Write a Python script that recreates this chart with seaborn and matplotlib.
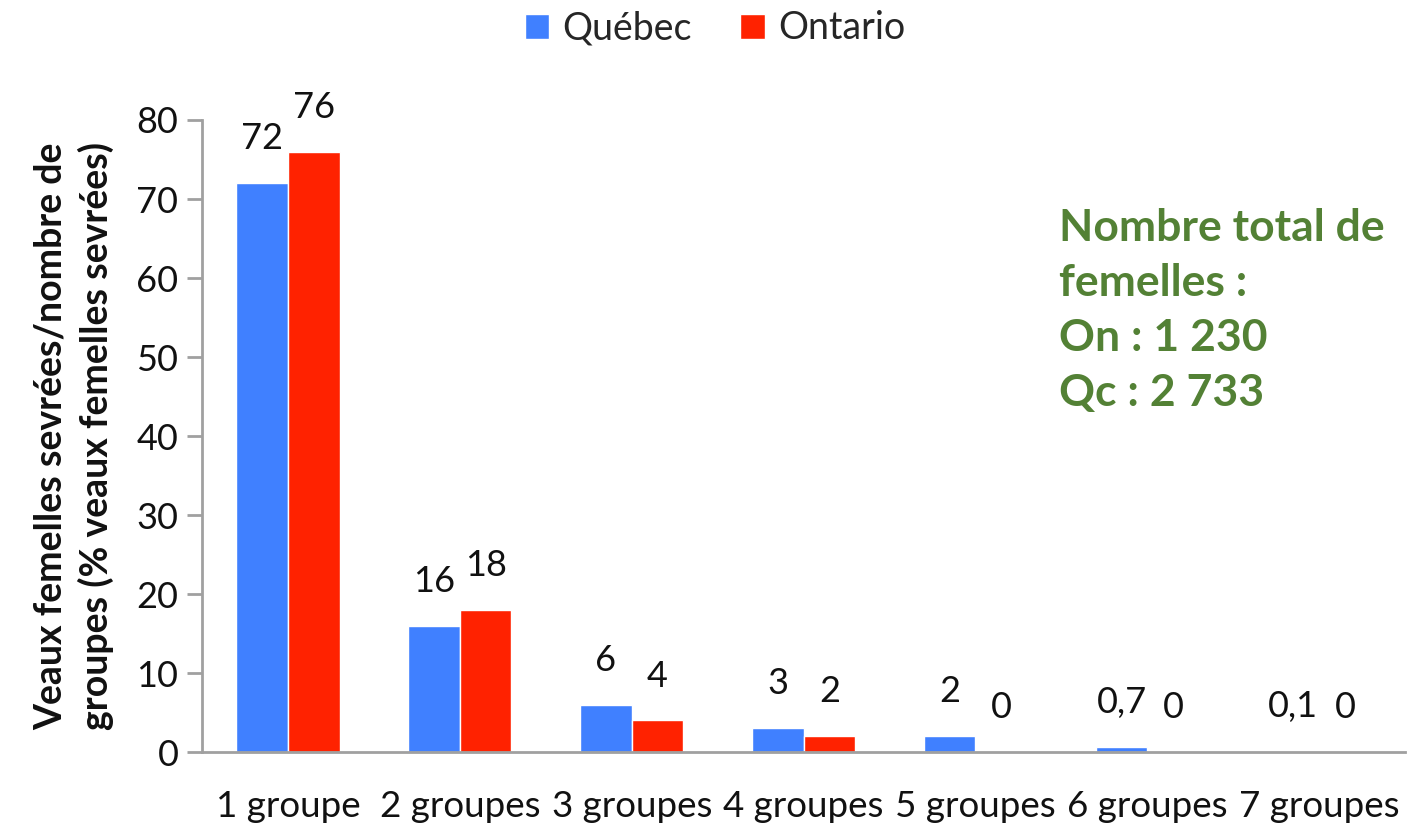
import numpy as np
import pandas as pd
import matplotlib
matplotlib.use("Agg")
import matplotlib.pyplot as plt
import seaborn as sns

categories = ["1 groupe", "2 groupes", "3 groupes", "4 groupes", "5 groupes", "6 groupes", "7 groupes"]
quebec = [72, 16, 6, 3, 2, 0.7, 0.1]
ontario = [76, 18, 4, 2, 0, 0, 0]
quebec_labels = ["72", "16", "6", "3", "2", "0,7", "0,1"]
ontario_labels = ["76", "18", "4", "2", "0", "0", "0"]
provinces = ["Québec", "Ontario"]
colors = {"Québec": "#4080FF", "Ontario": "#FF2200"}
note = "Nombre total de\nfemelles :\nOn : 1 230\nQc : 2 733"

df = pd.DataFrame({
    "groupes": categories * 2,
    "pct": quebec + ontario,
    "province": ["Québec"] * len(categories) + ["Ontario"] * len(categories),
})

sns.set_style("white")
plt.rcParams["font.family"] = ["Lato", "DejaVu Sans"]

fig = plt.figure(figsize=(14.1, 8.31), dpi=100)
ax = fig.add_axes([0.1433, 0.095, 0.8532, 0.7606])

sns.barplot(data=df, x="groupes", y="pct", hue="province", hue_order=provinces,
            palette=colors, width=0.6, saturation=1, ax=ax, legend=True)

# value labels above each bar
for container, labels in zip(ax.containers, [quebec_labels, ontario_labels]):
    for bar, lab in zip(container, labels):
        ax.annotate(lab, (bar.get_x() + bar.get_width() / 2, bar.get_height()),
                    xytext=(0, 32), textcoords="offset points",
                    ha="center", va="center", fontsize=26, color="#111111")

ax.set_ylim(0, 80)
ax.set_yticks(np.arange(0, 81, 10))
ax.set_xlim(-0.5, len(categories) - 0.5)
ax.set_xticks(range(len(categories)))
ax.set_xticklabels(categories, fontsize=26.5)
ax.set_xticks(np.arange(-0.5, len(categories), 1), minor=True)
ax.tick_params(axis="x", which="major", length=0, pad=27, colors="#111111")
ax.tick_params(axis="x", which="minor", length=10, width=2, color="#A0A0A0", direction="out")
ax.tick_params(axis="y", length=11, width=2, color="#A0A0A0", direction="out", labelsize=26,
               labelcolor="#111111", pad=6, left=True)
ax.set_xlabel("")
ax.set_ylabel("Veaux femelles sevrées/nombre de\ngroupes (% veaux femelles sevrées)",
              fontsize=27, fontweight="bold", color="#111111", labelpad=16, linespacing=1.35)

for side in ["top", "right"]:
    ax.spines[side].set_visible(False)
for side in ["left", "bottom"]:
    ax.spines[side].set_color("#A0A0A0")
    ax.spines[side].set_linewidth(2)

ax.text(0.712, 0.86, note, transform=ax.transAxes, fontsize=32, fontweight="bold",
        color="#538135", va="top", ha="left", linespacing=1.45)

handles, labels = ax.get_legend_handles_labels()
ax.legend_.remove()
fig.legend(handles, labels, loc="center", bbox_to_anchor=(0.507, 0.966), ncol=2,
           frameon=False, fontsize=27, handlelength=0.65, handleheight=0.65,
           handletextpad=0.35, columnspacing=1.3)

fig.savefig("out.png", dpi=100, facecolor="white")
